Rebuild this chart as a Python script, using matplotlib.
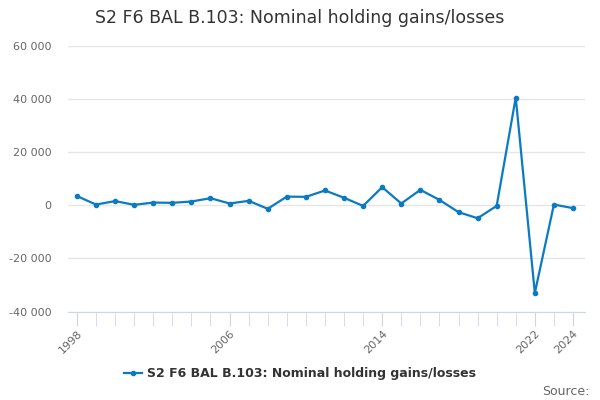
import numpy as np
import matplotlib
matplotlib.use("Agg")
import matplotlib.pyplot as plt

years = list(range(1998, 2025))
values = [3500, 300, 1600, 200, 1050, 950, 1450, 2700, 700, 1700,
          -1300, 3300, 3200, 5600, 2850, -200, 6850, 700, 5850, 2050,
          -2550, -4850, -200, 40600, -33000, 300, -1050]
tick_years = [1998, 2006, 2014, 2022, 2024]
y_ticks = [-40000, -20000, 0, 20000, 40000, 60000]
series_name = "S2 F6 BAL B.103: Nominal holding gains/losses"

plt.rcParams['font.family'] = ['DejaVu Sans']
fig = plt.figure(figsize=(6, 4), dpi=100)
ax = fig.add_axes([0.1133, 0.221, 0.8617, 0.664])

color = "#0a7bc2"
ax.plot(years, values, color=color, lw=1.6, marker="o", ms=3, label=series_name)

ax.set_xlim(1997.53, 2024.63)
ax.set_ylim(-40000, 60000)
ax.set_yticks(y_ticks)
ax.set_yticklabels([f"{v:,}".replace(",", " ") for v in y_ticks])
ax.grid(axis="y", color="#e6e6e6", lw=1)
ax.set_axisbelow(True)
for s in ["top", "right", "left"]:
    ax.spines[s].set_visible(False)
ax.spines["bottom"].set_color("#ccd6eb")
ax.tick_params(axis="y", length=0, labelsize=8, labelcolor="#666666", pad=12)

ax.set_xticks(years, minor=True)
ax.set_xticks(tick_years)
ax.set_xticklabels([str(y) for y in tick_years], rotation=45, ha="right",
                   rotation_mode="anchor")
ax.tick_params(axis="x", which="both", length=10, color="#ccd6eb",
               labelsize=8, labelcolor="#666666", pad=2)

fig.text(0.5, 0.955, series_name, ha="center", va="center",
         fontsize=12.5, color="#333333")
leg = fig.legend(loc="center", bbox_to_anchor=(0.5, 0.065), frameon=False,
                 prop={"weight": "bold", "size": 9}, handlelength=1.5,
                 handletextpad=0.4)
for t in leg.get_texts():
    t.set_color("#333333")
fig.text(0.982, 0.022, "Source:", ha="right", va="center", fontsize=9,
         color="#666666")

fig.savefig("out.png", dpi=100)
